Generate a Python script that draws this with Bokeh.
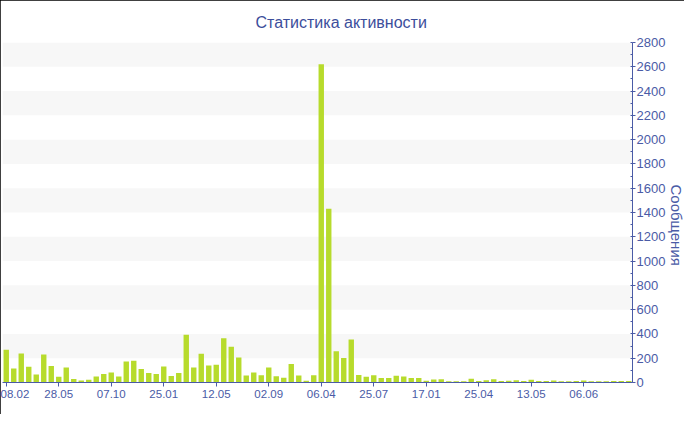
from bokeh.plotting import figure
from bokeh.models import FixedTicker, SingleIntervalTicker, Title
from bokeh.embed import file_html
from bokeh.resources import INLINE

# ---- data ----
messages = [
    270, 115, 238, 130, 65, 230, 135, 48, 124, 28,
    17, 23, 49, 69, 82, 49, 172, 180, 112, 79,
    71, 131, 54, 79, 394, 123, 237, 139, 147, 364,
    294, 206, 57, 82, 59, 124, 51, 40, 153, 57,
    15, 59, 2620, 1430, 257, 202, 354, 62, 48, 59,
    37, 37, 55, 49, 38, 38, 15, 24, 26, 11,
    11, 11, 30, 13, 19, 27, 13, 15, 19, 13,
    22, 13, 13, 16, 10, 10, 13, 16, 10, 10,
    10, 12, 12, 12,
]
tick_labels = ["08.02", "28.05", "07.10", "25.01", "12.05", "02.09",
               "06.04", "25.07", "17.01", "25.04", "13.05", "06.06"]
tick_step = 7
title_text = "Статистика активности"
y_title = "Сообщения"
y_max = 2800
y_step = 200

# ---- styles ----
GREEN = "#b7db2c"
AXIS = "#4a5ba6"
TITLE = "#3c4e9b"
BAND = "#f7f7f7"
FONT = "Liberation Sans"

n = len(messages)
idx = list(range(n))

p = figure(width=684, height=414,
           x_range=(-0.5, n - 0.5), y_range=(0, y_max),
           output_backend="svg", toolbar_location=None,
           y_axis_location="right",
           min_border_left=2, min_border_right=52,
           min_border_top=42, min_border_bottom=32,
           title=title_text)
p.styles = {"outline": "1px solid black", "outline-offset": "-1px"}

p.title.align = "left"
p.title.offset = 253
p.title.vertical_align = "top"
p.title.standoff = 20
p.title.text_font = FONT
p.title.text_font_size = "16px"
p.title.text_font_style = "normal"
p.title.text_color = TITLE

p.outline_line_color = None
p.background_fill_color = "white"
p.border_fill_color = "white"

p.xgrid.visible = False
p.ygrid.grid_line_color = None
p.ygrid.band_fill_color = BAND
p.ygrid.band_fill_alpha = 1.0

p.vbar(x=idx, top=messages, width=0.72, fill_color=GREEN, line_color=None)

# x axis
tick_pos = [i * tick_step for i in range(len(tick_labels))]
xa = p.xaxis[0]
xa.ticker = FixedTicker(ticks=tick_pos)
xa.major_label_overrides = {t: lab for t, lab in zip(tick_pos, tick_labels)}
xa.axis_line_color = AXIS
xa.major_tick_line_color = AXIS
xa.major_tick_out = 4
xa.major_tick_in = 0
xa.minor_tick_line_color = None
xa.major_label_standoff = 3
xa.major_label_text_color = AXIS
xa.major_label_text_font = FONT
xa.major_label_text_font_size = "11.5px"

# y axis (right)
ya = p.yaxis[0]
ya.ticker = SingleIntervalTicker(interval=y_step, num_minor_ticks=2)
ya.axis_line_color = AXIS
ya.major_tick_line_color = AXIS
ya.minor_tick_line_color = AXIS
ya.major_tick_out = 3
ya.major_tick_in = 0
ya.minor_tick_out = 0
ya.minor_tick_in = 2
ya.major_label_standoff = 1
ya.major_label_text_color = AXIS
ya.major_label_text_font = FONT
ya.major_label_text_font_size = "13px"

# axis title on the right, tucked against the right edge
p.add_layout(Title(text=y_title, align="left", offset=142,
                   vertical_align="top", standoff=-5,
                   text_font=FONT, text_font_size="15px",
                   text_font_style="normal", text_color=AXIS), "right")

open("out.html", "w").write(file_html(p, INLINE))
